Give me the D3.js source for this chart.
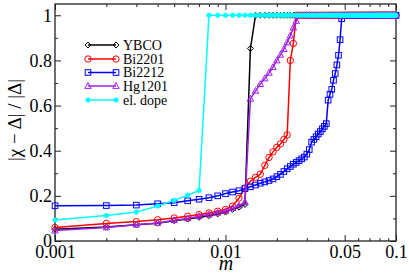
<!DOCTYPE html>
<html><head><meta charset="utf-8">
<script src="https://cdn.jsdelivr.net/npm/d3@7"></script>
<style>
html,body{margin:0;padding:0;background:#fff;}
svg text{font-family:"Liberation Serif";fill:#000;}
</style></head>
<body><svg id="c" width="409" height="273"></svg>
<script>
// x grid (m values)
const mGrid = [
0.001,0.002,0.003,0.004,0.005,0.006,0.007,0.008,0.009,0.010,
0.011,0.012,0.013,0.014,0.015,0.016,0.017,0.018,0.019,0.020,
0.021,0.022,0.023,0.024,0.025,0.026,0.027,0.028,0.029,0.030,
0.031,0.032,0.033,0.034,0.035,0.036,0.037,0.038,0.039,0.040,
0.041,0.042,0.043,0.044,0.045,0.046,0.047,0.048,0.049,0.050,
0.051,0.052,0.053,0.054,0.055,0.056,0.057,0.058,0.059,0.060,
0.061,0.062,0.063,0.064,0.065,0.066,0.067,0.068,0.069,0.070,
0.071,0.072,0.073,0.074,0.075,0.076,0.077,0.078,0.079,0.080,
0.081,0.082,0.083,0.084,0.085,0.086,0.087,0.088,0.089,0.090,
0.091,0.092,0.093,0.094,0.095,0.096,0.097,0.098,0.099,0.100];

const ybco = [
0.052,0.062,0.072,0.079,0.090,0.097,0.105,0.112,0.120,0.128,
0.140,0.150,0.162,0.853,1,1,1,1,1,1,
1,1,1,1,1,1,1,1,1,1, 1,1,1,1,1,1,1,1,1,1, 1,1,1,1,1,1,1,1,1,1,
1,1,1,1,1,1,1,1,1,1, 1,1,1,1,1,1,1,1,1,1, 1,1,1,1,1,1,1,1,1,1,
1,1,1,1,1,1,1,1,1,1, 1,1,1,1,1,1,1,1,1,1];

const bi2201 = [
0.060,0.078,0.086,0.094,0.102,0.110,0.117,0.124,0.132,0.140,
0.155,0.190,0.235,0.265,0.282,0.296,0.335,0.370,0.395,0.415,
0.430,0.450,0.470,0.800,0.875,1,1,1,1,1,
1,1,1,1,1,1,1,1,1,1, 1,1,1,1,1,1,1,1,1,1, 1,1,1,1,1,1,1,1,1,1,
1,1,1,1,1,1,1,1,1,1, 1,1,1,1,1,1,1,1,1,1, 1,1,1,1,1,1,1,1,1,1,
1,1,1,1,1,1,1,1,1,1];

const bi2212 = [
0.156,0.157,0.159,0.165,0.170,0.178,0.185,0.192,0.200,0.210,
0.217,0.223,0.232,0.240,0.248,0.256,0.262,0.268,0.275,0.285,
0.295,0.308,0.320,0.330,0.340,0.348,0.356,0.364,0.372,0.385,
0.405,0.438,0.450,0.462,0.474,0.485,0.497,0.508,0.520,0.624,
0.650,0.672,0.712,0.742,0.780,0.823,0.892,0.985,1,1,
1,1,1,1,1,1,1,1,1,1, 1,1,1,1,1,1,1,1,1,1, 1,1,1,1,1,1,1,1,1,1,
1,1,1,1,1,1,1,1,1,1, 1,1,1,1,1,1,1,1,1,1];

const hg1201 = [
0.046,0.060,0.072,0.080,0.092,0.100,0.110,0.117,0.125,0.133,
0.145,0.157,0.172,0.630,0.665,0.695,0.720,0.745,0.770,0.800,
0.825,0.850,0.880,0.910,0.945,0.975,1,1,1,1,
1,1,1,1,1,1,1,1,1,1, 1,1,1,1,1,1,1,1,1,1, 1,1,1,1,1,1,1,1,1,1,
1,1,1,1,1,1,1,1,1,1, 1,1,1,1,1,1,1,1,1,1, 1,1,1,1,1,1,1,1,1,1,
1,1,1,1,1,1,1,1,1,1];

const elDope = [
0.093,0.113,0.128,0.155,0.180,0.202,0.224,1,1,1,
1,1,1,1,1,1,1,1,1,1, 1,1,1,1,1,1,1,1,1,1, 1,1,1,1,1,1,1,1,1,1,
1,1,1,1,1,1,1,1,1,1, 1,1,1,1,1,1,1,1,1,1, 1,1,1,1,1,1,1,1,1,1,
1,1,1,1,1,1,1,1,1,1, 1,1,1,1,1,1,1,1,1,1, 1,1,1,1,1,1,1,1,1,1];

const seriesNames = ["YBCO","Bi2201","Bi2212","Hg1201","el. dope"];
const seriesValues = [ybco, bi2201, bi2212, hg1201, elDope];
const seriesColors = ["#000000","#ff0000","#0000ff","#a020f0","#00ffff"];
const seriesMarkers = ["diamond","circle","square","triangle","dot"];

const xMajorTicks = [0.001,0.01,0.05,0.1];
const xTickLabels = ["0.001","0.01","0.05","0.1"];
const xMinorTicks = [0.002,0.003,0.004,0.005,0.006,0.007,0.008,0.009,0.02,0.03,0.04,0.06,0.07,0.08,0.09];
const yMajorTicks = [0,0.2,0.4,0.6,0.8,1];
const yTickLabels = ["0","0.2","0.4","0.6","0.8","1"];
const yMinorTicks = [0.1,0.3,0.5,0.7,0.9];

const FONT = '"Liberation Serif"';
const L=55,R=396,T=4,B=241;
const svg = d3.select("#c");
const x = d3.scaleLog().domain([0.001,0.1]).range([L,R]);
const y = d3.scaleLinear().domain([0,1.05]).range([B,T]);

function styleAxis(g){ g.attr("font-family",FONT); g.select(".domain").remove(); g.selectAll("line").attr("stroke","#222").attr("stroke-width",1); g.selectAll("text").style("font-family",FONT).attr("font-size",18).attr("fill","#000"); }

svg.append("g").attr("transform",`translate(0,${B})`)
  .call(d3.axisBottom(x).tickValues(xMajorTicks).tickSize(-6).tickPadding(4).tickFormat((d,i)=>xTickLabels[i])).call(styleAxis);
svg.append("g").attr("transform",`translate(0,${B})`)
  .call(d3.axisBottom(x).tickValues(xMinorTicks).tickSize(-3).tickFormat("")).call(styleAxis);
svg.append("g").attr("transform",`translate(0,${T})`)
  .call(d3.axisTop(x).tickValues(xMajorTicks).tickSize(-6).tickFormat("")).call(styleAxis);
svg.append("g").attr("transform",`translate(0,${T})`)
  .call(d3.axisTop(x).tickValues(xMinorTicks).tickSize(-3).tickFormat("")).call(styleAxis);
svg.append("g").attr("transform",`translate(${L},0)`)
  .call(d3.axisLeft(y).tickValues(yMajorTicks).tickSize(-6).tickPadding(3).tickFormat((d,i)=>yTickLabels[i])).call(styleAxis);
svg.append("g").attr("transform",`translate(${L},0)`)
  .call(d3.axisLeft(y).tickValues(yMinorTicks).tickSize(-3).tickFormat("")).call(styleAxis);
svg.append("g").attr("transform",`translate(${R},0)`)
  .call(d3.axisRight(y).tickValues(yMajorTicks).tickSize(-6).tickFormat("")).call(styleAxis);
svg.append("g").attr("transform",`translate(${R},0)`)
  .call(d3.axisRight(y).tickValues(yMinorTicks).tickSize(-3).tickFormat("")).call(styleAxis);

svg.append("rect").attr("x",L).attr("y",T).attr("width",R-L).attr("height",B-T)
  .attr("fill","none").attr("stroke","#222").attr("stroke-width",1.3);

function drawMarker(g, type, cx, cy, color){
  if(type==="circle") g.append("circle").attr("cx",cx).attr("cy",cy).attr("r",3.2).attr("fill","none").attr("stroke",color).attr("stroke-width",1);
  else if(type==="dot") g.append("circle").attr("cx",cx).attr("cy",cy).attr("r",2.3).attr("fill",color).attr("stroke",color).attr("stroke-width",0.6);
  else if(type==="square") g.append("rect").attr("x",cx-2.8).attr("y",cy-2.8).attr("width",5.6).attr("height",5.6).attr("fill","none").attr("stroke",color).attr("stroke-width",1);
  else if(type==="diamond") g.append("path").attr("d",`M${cx},${cy-3}L${cx+3},${cy}L${cx},${cy+3}L${cx-3},${cy}Z`).attr("fill","none").attr("stroke",color).attr("stroke-width",1);
  else if(type==="triangle") g.append("path").attr("d",`M${cx},${cy-3.4}L${cx+3.2},${cy+2.4}L${cx-3.2},${cy+2.4}Z`).attr("fill","none").attr("stroke",color).attr("stroke-width",1);
}

const line = d3.line().x(d=>x(d[0])).y(d=>y(d[1]));
seriesValues.forEach((vals,si)=>{
  const pts = mGrid.map((m,i)=>[m,vals[i]]);
  const g = svg.append("g");
  g.append("path").attr("d",line(pts)).attr("fill","none").attr("stroke",seriesColors[si]).attr("stroke-width",1.5);
  pts.forEach(p=>drawMarker(g, seriesMarkers[si], x(p[0]), y(p[1]), seriesColors[si]));
});

// legend
const legY = [45,59,72.5,86,100];
seriesNames.forEach((nm,i)=>{
  const g = svg.append("g");
  g.append("line").attr("x1",88).attr("x2",116).attr("y1",legY[i]).attr("y2",legY[i]).attr("stroke",seriesColors[i]).attr("stroke-width",1.5);
  drawMarker(g, seriesMarkers[i], 88, legY[i], seriesColors[i]);
  drawMarker(g, seriesMarkers[i], 116, legY[i], seriesColors[i]);
  g.append("text").attr("x",123).attr("y",legY[i]).attr("dy","0.35em").style("font-family",FONT).attr("font-size",14).text(nm);
});

// axis titles
svg.append("text").attr("x",(L+R)/2+0.5).attr("y",269.5).attr("text-anchor","middle").style("font-family",FONT)
  .attr("font-size",20).attr("font-style","italic").text("m");
svg.append("text").attr("transform","translate(21,120) rotate(-90)").attr("text-anchor","middle").style("font-family",FONT)
  .attr("font-size",19).text("|χ − Δ| / |Δ|");
</script></body></html>
